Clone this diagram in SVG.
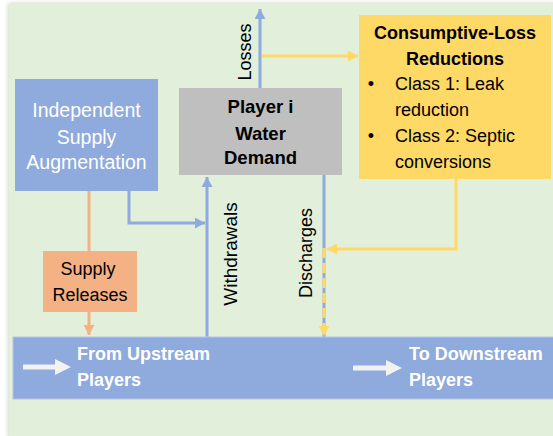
<svg xmlns="http://www.w3.org/2000/svg" width="553" height="436" viewBox="0 0 553 436">
<style>
text{font-family:"Liberation Sans",Arial,sans-serif;font-size:18px;fill:#000}
.w{fill:#fff}
.b{font-weight:bold}
.c{text-anchor:middle}
.lb{stroke:#8FAADC;stroke-width:3;fill:none}
.ly{stroke:#FFD966;stroke-width:3;fill:none}
.lo{stroke:#F4B183;stroke-width:3;fill:none}
</style>
<defs>
<filter id="sh" x="-5%" y="-5%" width="110%" height="110%"><feGaussianBlur stdDeviation="2"/></filter>
<marker id="ab" markerUnits="userSpaceOnUse" markerWidth="11" markerHeight="11" refX="10" refY="5.5" orient="auto"><path d="M0,0 L10,5.5 L0,11 z" fill="#8FAADC"/></marker>
<marker id="ay" markerUnits="userSpaceOnUse" markerWidth="11" markerHeight="11" refX="10" refY="5.5" orient="auto"><path d="M0,0 L10,5.5 L0,11 z" fill="#FFD966"/></marker>
<marker id="ao" markerUnits="userSpaceOnUse" markerWidth="11" markerHeight="11" refX="10" refY="5.5" orient="auto"><path d="M0,0 L10,5.5 L0,11 z" fill="#F4B183"/></marker>
</defs>
<rect x="8" y="3" width="550" height="436" fill="#cfd8c8" filter="url(#sh)"/>
<rect x="9" y="4" width="544" height="432" fill="#E2EFDA"/>

<g id="connectors">
<path class="lb" d="M260,88 V9" marker-end="url(#ab)"/>
<path class="ly" d="M262,56 H358" marker-end="url(#ay)"/>
<path class="lb" d="M129,191 V223 H205" marker-end="url(#ab)"/>
<path class="lb" d="M207,337 V177" marker-end="url(#ab)"/>
<path class="lb" d="M324,175 V337"/>
<path class="ly" d="M456,179 V249 H327" marker-end="url(#ay)"/>
<path class="ly" d="M324,248 V336" stroke-dasharray="10 5" marker-end="url(#ay)"/>
<path class="lo" d="M89,191 V251"/>
<path class="lo" d="M89,312 V335" marker-end="url(#ao)"/>
<text transform="translate(251,52) rotate(-90)" class="c">Losses</text>
<text transform="translate(237,254) rotate(-90)" class="c" style="font-size:19px">Withdrawals</text>
<text transform="translate(312,253) rotate(-90)" class="c">Discharges</text>
</g>

<g id="river">
<rect x="13" y="337" width="545" height="62" fill="#8FAADC" stroke="#B4C7E7" stroke-width="1"/>
<path d="M23,367 H58" stroke="#F2F2F2" stroke-width="5"/>
<path d="M55,359 L71,367 L55,375 z" fill="#F2F2F2"/>
<path d="M353,368 H388" stroke="#F2F2F2" stroke-width="5"/>
<path d="M386,360 L402,368 L386,376 z" fill="#F2F2F2"/>
<text x="77" y="360" class="w b">From Upstream</text>
<text x="77" y="386" class="w b">Players</text>
<text x="409" y="360" class="w b">To Downstream</text>
<text x="409" y="386" class="w b">Players</text>
</g>

<g id="independent-supply">
<rect x="15" y="79" width="143" height="112" fill="#8FAADC"/>
<text x="86.5" y="117" class="w c" style="font-size:19.5px">Independent</text>
<text x="86.5" y="144" class="w c" style="font-size:19.5px">Supply</text>
<text x="86.5" y="169" class="w c" style="font-size:19.5px">Augmentation</text>
</g>

<g id="player-demand">
<rect x="179" y="88" width="163" height="87" fill="#BFBFBF"/>
<text x="260.5" y="113" class="b c" style="font-size:18.5px">Player i</text>
<text x="260.5" y="140" class="b c" style="font-size:18.5px">Water</text>
<text x="260.5" y="164" class="b c" style="font-size:18.5px">Demand</text>
</g>

<g id="consumptive-loss">
<rect x="359" y="15" width="192" height="164" fill="#FFD966"/>
<text x="455" y="39" class="b c">Consumptive-Loss</text>
<text x="455" y="65" class="b c">Reductions</text>
<text x="371" y="90" class="c">•</text>
<text x="395" y="90">Class 1: Leak</text>
<text x="395" y="116">reduction</text>
<text x="371" y="142" class="c">•</text>
<text x="395" y="142">Class 2: Septic</text>
<text x="395" y="168">conversions</text>
</g>

<g id="supply-releases">
<rect x="43" y="251" width="94" height="61" fill="#F4B183"/>
<text x="88" y="275" class="c">Supply</text>
<text x="90" y="301" class="c">Releases</text>
</g>
</svg>
